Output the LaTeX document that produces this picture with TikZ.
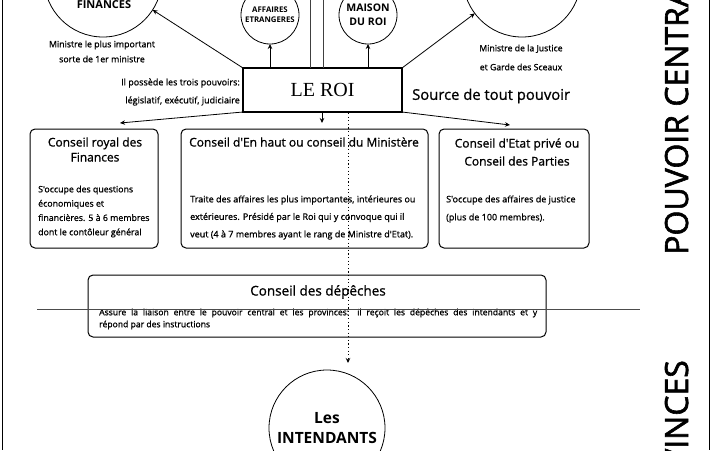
\documentclass[tikz,border=0pt]{standalone}
\usepackage{fontspec}
\setmainfont{Open Sans}
\newfontfamily\medf[RawFeature={embolden=1.0}]{Open Sans}
\newfontfamily\bigf[RawFeature={embolden=1.8}]{Open Sans}
\newfontfamily\roifont{Liberation Serif}
\usetikzlibrary{arrows.meta,calc}
\begin{document}
\begin{tikzpicture}[x=1pt,y=-1pt,
  arr/.style={-{Stealth[length=5pt,width=4.5pt]}, line width=0.8pt},
  conseil/.style={draw, rounded corners=5pt, line width=1pt, anchor=north west, inner sep=0pt, outer sep=0pt},
  circ/.style={draw, circle, line width=0.8pt, inner sep=0pt, outer sep=0pt, align=center},
  head/.style={inner sep=0pt, align=center, font=\medf\fontsize{12}{15}\selectfont},
  body/.style={inner sep=0pt, align=left, anchor=west, font=\medf\fontsize{8.8}{14.3}\selectfont},
  capt/.style={inner sep=0pt, align=center, font=\medf\fontsize{8.8}{15}\selectfont},
  big/.style={inner sep=0pt, rotate=90, font=\bigf\fontsize{32}{34}\selectfont}
]
\useasboundingbox (0,0) rectangle (712,450);
\clip (0,0) rectangle (712,450);
% frame lines
\draw[line width=1pt] (2,0) -- (2,450);
\draw[line width=1pt] (709,0) -- (709,450);
% circles
\node[circ, minimum size=118pt] (fin) at (103,-22) {};
\node[inner sep=0pt, font=\bfseries\fontsize{11}{12}\selectfont] (fintxt) at (104,5) {FINANCES};
\node[circ, minimum size=118pt] (jus) at (522,-22) {};
\node[circ, minimum size=58pt, font=\bfseries\fontsize{7.8}{10}\selectfont] (aff) at (270,15) {AFFAIRES\\ETRANGERES};
\node[circ, minimum size=58pt, font=\bfseries\fontsize{10.5}{14}\selectfont] (mai) at (368,15) {MAISON\\DU ROI};
\node[circ, minimum size=116pt, font=\bfseries\fontsize{15.5}{20}\selectfont] (int) at (327,428) {Les\\INTENDANTS};
% captions
\node[capt] (fincap) at (102,51.5) {Ministre le plus important\\sorte de 1er ministre};
\node[capt, font=\medf\fontsize{8.7}{19}\selectfont] (juscap) at (521,57.5) {Ministre de la Justice\\et Garde des Sceaux};
\node[inner sep=0pt, anchor=east, align=right, font=\medf\fontsize{9}{18}\selectfont] (pouv) at (240,92) {Il possède les trois pouvoirs:\\législatif, exécutif, judiciaire};
\node[inner sep=0pt, anchor=west, font=\medf\fontsize{14.8}{16}\selectfont] (source) at (412,96) {Source de tout pouvoir};
% le roi
\node[draw, line width=2pt, minimum width=159pt, minimum height=44pt, anchor=north west, inner sep=0pt, outer sep=0pt, font=\roifont\fontsize{20}{24}\selectfont] (roi) at (243,68) {LE ROI};
% vertical lines
\coordinate (v1) at (310,0);
\coordinate (v2) at (323,0);
\draw[line width=0.8pt, black!75] (v1) -- (v1 |- roi.north);
\draw[line width=0.8pt, black!75] (v2) -- (v2 |- roi.north);
% arrows from roi
\draw[arr] (roi.north west) -- (fin);
\draw[arr] (roi.north east) -- (jus);
\draw[arr] (roi.north -| aff.south) -- (aff.south);
\draw[arr] (roi.north -| mai.south) -- (mai.south);
\coordinate (t1) at (120,123);
\coordinate (t2) at (322,123);
\coordinate (t3) at (510,125);
\draw[arr] (roi.south west) -- (t1);
\draw[arr] (roi.south -| t2) -- (t2);
\draw[arr] (roi.south east) -- (t3);
% conseils
\node[conseil, minimum width=128pt, minimum height=119pt] (royal) at (30,129) {};
\node[conseil, minimum width=247pt, minimum height=119pt] (enhaut) at (181,129) {};
\node[conseil, minimum width=150pt, minimum height=119pt] (etat) at (439,129) {};
\node[head] (royalh) at (95,149.5) {Conseil royal des\\Finances};
\node[head] (enhauth) at (304,142) {Conseil d'En haut ou conseil du Ministère};
\node[head, font=\medf\fontsize{12}{18}\selectfont] (etath) at (517,152) {Conseil d'Etat privé ou\\Conseil des Parties};
\node[body] (royalb) at (38,211.5) {S'occupe des questions\\économiques et\\financières. 5 à 6 membres\\dont le contôleur général};
\node[body, font=\medf\fontsize{9}{17.5}\selectfont] (enhautb) at (190,217.5) {Traite des affaires les plus importantes, intérieures ou\\extérieures. Présidé par le Roi qui y convoque qui il\\veut (4 à 7 membres ayant le rang de Ministre d'Etat).};
\node[body, font=\medf\fontsize{9}{18}\selectfont] (etatb) at (446,209) {S'occupe des affaires de justice\\(plus de 100 membres).};
% depeches
\node[conseil, minimum width=458pt, minimum height=62pt] (dep) at (88,275) {};
\node[inner sep=0pt, font=\medf\fontsize{13.5}{14}\selectfont] (deph) at (318,292) {Conseil des dépêches};
\node[inner sep=0pt, anchor=west, text width=438pt, align=justify, font=\medf\fontsize{8.6}{12}\selectfont] (depb) at (99,319) {Assure la liaison entre le pouvoir central et les provinces: il reçoit les dépêches des intendants et y\linebreak répond par des instructions};
% horizontal separator
\coordinate (h0) at (37,309);
\coordinate (h1) at (640,309);
\draw[line width=0.8pt, black!70] (h0) -- (h1);
% dotted link
\coordinate (d0) at (348,113);
\coordinate (d1) at (348,363);
\draw[arr, line width=1pt, dash pattern=on 1.2pt off 2.4pt] (d0) -- (d1);
% big labels
\node[big, anchor=base west] (pc) at (688,255) {POUVOIR CENTRAL};
\node[big, anchor=base east] (pr) at (688,360) {PROVINCES};
\end{tikzpicture}
\end{document}
